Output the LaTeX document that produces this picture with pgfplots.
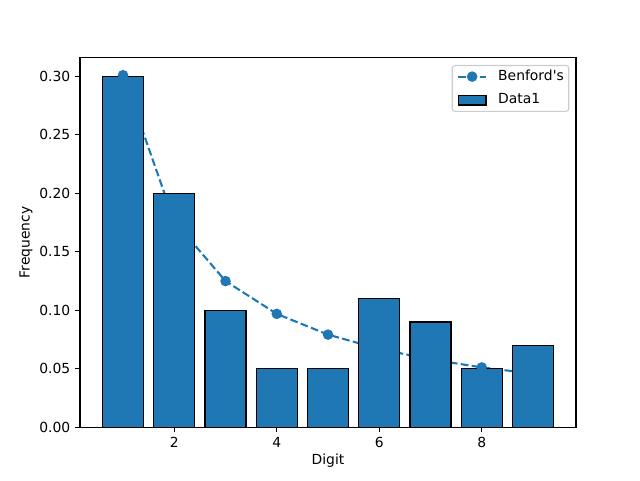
\documentclass[border=0pt]{standalone}
\usepackage{fontspec}
\setmainfont{DejaVu Sans}
\usepackage{pgfplots}
\pgfplotsset{compat=1.18}
\definecolor{cblue}{HTML}{1F77B4}
\pgfplotsset{
  box key/.style={
    legend image code/.code={\draw[##1, sharp corners] (0bp,-3.5bp) rectangle (20bp,3.5bp);}},
  dashmark key/.style={
    legend image code/.code={
      \draw[##1, sharp corners, mark repeat=2, mark phase=2] plot coordinates {(0bp,0bp) (10bp,0bp) (20bp,0bp)};}},
}

\begin{document}
\fontsize{10bp}{12bp}\selectfont
\begin{tikzpicture}[x=1bp,y=1bp]
\path[use as bounding box] (0,0) rectangle (460.8,345.6);
\begin{axis}[
  at={(57.6bp,38.016bp)}, anchor=south west,
  scale only axis, width=357.12bp, height=266.112bp,
  xmin=0.16, xmax=9.84, ymin=0, ymax=0.31605,
  xtick={2,4,6,8},
  ytick={0,0.05,0.10,0.15,0.20,0.25,0.30},
  yticklabel style={/pgf/number format/.cd, fixed, fixed zerofill, precision=2},
  /pgf/number format/assume math mode=true,
  tick align=outside, xtick pos=bottom, ytick pos=left,
  major tick length=3.5bp,
  every tick/.style={black, line width=0.8bp},
  axis line style={line width=0.8bp},
  tick label style={font=\fontsize{10bp}{12bp}\selectfont},
  label style={font=\fontsize{10bp}{12bp}\selectfont},
  xlabel={Digit}, ylabel={Frequency},
  xlabel style={yshift=2bp},
  ylabel style={yshift=-2bp},
  legend cell align=left,
  legend style={at={(1,1)}, anchor=north east, xshift=-4.8bp, yshift=-5.3bp,
    draw=black!20, rounded corners=2bp, line width=0.8bp,
    font=\fontsize{10bp}{12bp}\selectfont,
    inner xsep=3.6bp, inner ysep=3bp, row sep=7bp,
    nodes={inner sep=0pt, text height=7.5bp, text depth=2.5bp},
    /tikz/every odd column/.append style={column sep=8bp}},
]
% Benford's law expected first-digit frequencies
\addplot[cblue, line width=1.5bp, dash pattern=on 5.55bp off 2.4bp,
  mark=*, mark size=3bp, mark options={solid, fill=cblue, draw=cblue}, dashmark key]
  coordinates {(1,0.30103) (2,0.17609) (3,0.12494) (4,0.09691) (5,0.07918)
               (6,0.06695) (7,0.05799) (8,0.05115) (9,0.04576)};
\addlegendentry{Benford\textquotesingle s}
% Observed first-digit frequencies
\addplot[ybar, bar width=0.8, bar shift=0pt, fill=cblue, draw=black, line width=1bp,
  box key]
  coordinates {(1,0.30) (2,0.20) (3,0.10) (4,0.05) (5,0.05)
               (6,0.11) (7,0.09) (8,0.05) (9,0.07)};
\addlegendentry{Data1}
\end{axis}
\end{tikzpicture}
\end{document}
